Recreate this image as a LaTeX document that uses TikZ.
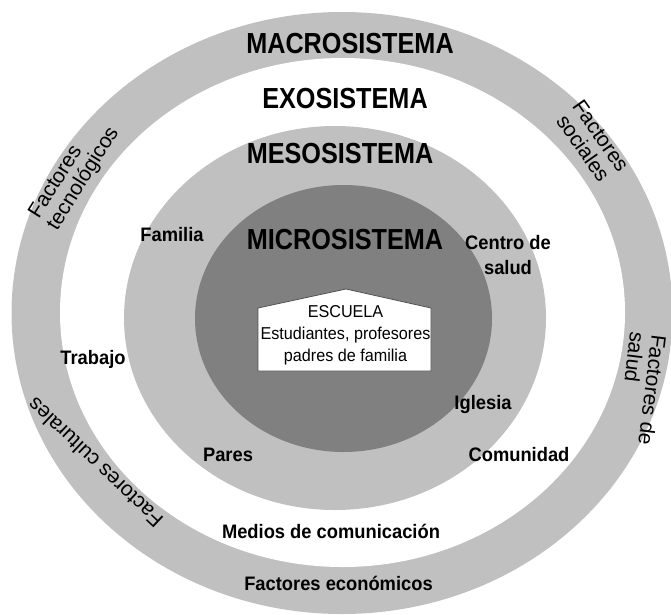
\documentclass[tikz,border=0pt]{standalone}
\usepackage{fontspec}
\setmainfont{Liberation Sans}
\newfontfamily\ttlfont[FakeStretch=0.87]{Liberation Sans}
\newfontfamily\lblfont[FakeStretch=0.94]{Liberation Sans}
\definecolor{ringgray}{RGB}{192,192,192}
\definecolor{microgray}{RGB}{128,128,128}
\definecolor{houseline}{RGB}{80,80,80}
\tikzset{
  ttl/.style={font=\ttlfont\bfseries\fontsize{29}{34}\selectfont, anchor=base, inner sep=0pt},
  lbl/.style={font=\lblfont\bfseries\fontsize{19.5}{25}\selectfont, anchor=base, inner sep=0pt},
  rot/.style={font=\fontsize{21}{21.5}\selectfont, inner sep=0pt},
  esc/.style={font=\lblfont\fontsize{17.2}{22}\selectfont, inner sep=0pt},
  house/.style={fill=white, draw=houseline, line width=0.8pt}
}
\begin{document}
\begin{tikzpicture}[x=1pt,y=-1pt]
\useasboundingbox (0,0) rectangle (671,614);
\clip (0,0) rectangle (671,614);
% rings
\fill[ringgray] (342,313) ellipse [x radius=330.5, y radius=301];
\fill[white] (342.5,312.5) ellipse [x radius=282.5, y radius=254.5];
\fill[ringgray] (335,318) ellipse [x radius=211, y radius=192];
\fill[microgray] (343.5,318.5) ellipse [x radius=148.5, y radius=133.5];
% house
\draw[house] (258,308) -- (346,289) -- (431,308) -- (431,371) -- (258,371) -- cycle;
\node[esc, align=center, anchor=base] (escuela) at (345.5,361) {ESCUELA\\Estudiantes, profesores\\padres de familia};
% titles
\node[ttl] (macro) at (350,53) {MACROSISTEMA};
\node[ttl] (exo) at (345,108) {EXOSISTEMA};
\node[ttl] (meso) at (340,163) {MESOSISTEMA};
\node[ttl] (micro) at (345,249) {MICROSISTEMA};
% labels
\node[lbl] (familia) at (172,241) {Familia};
\node[lbl, align=center] (centro) at (508,274) {Centro de\\salud};
\node[lbl] (trabajo) at (93,364) {Trabajo};
\node[lbl] (iglesia) at (483,409) {Iglesia};
\node[lbl] (pares) at (228,461) {Pares};
\node[lbl] (comunidad) at (519,461) {Comunidad};
\node[lbl] (medios) at (331,538) {Medios de comunicación};
\node[lbl] (economicos) at (338.5,590) {Factores económicos};
% rotated factors
\node[rot, rotate=58, align=left] (tecno) at (74.7,173.2) {Factores\\tecnológicos};
\node[rot, rotate=-55, align=center] (sociales) at (592,142) {Factores\\sociales};
\node[rot, rotate=-97, align=left] (salud) at (641.8,388.8) {Factores de\\salud};
\node[rot, rotate=136.6] (culturales) at (95,463) {Factores culturales};
\end{tikzpicture}
\end{document}
